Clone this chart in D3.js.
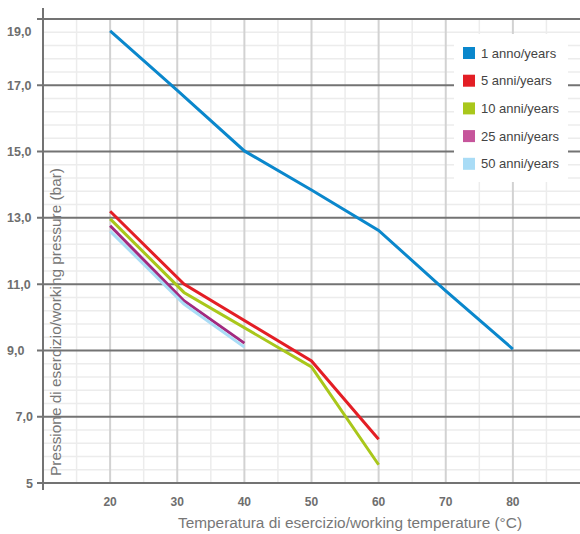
<!DOCTYPE html>
<html><head><meta charset="utf-8">
<script src="https://cdn.jsdelivr.net/npm/d3@7"></script>
<style>html,body{margin:0;padding:0;background:#fff}svg{display:block}</style>
</head><body>
<svg id="c" width="580" height="534"></svg>
<script>
const seriesNames = ["1 anno/years","5 anni/years","10 anni/years","25 anni/years","50 anni/years"];
const seriesColors = ["#0a87cc","#e31e25","#a9c71b","#a22a7f","#a9dcf6"];
const legendColors = ["#0a87cc","#e31e25","#a9c71b","#c6559b","#a9dcf6"];
const s1 = [[20,18.64],[30,16.85],[40,15.02],[50,13.84],[60,12.62],[70,10.8],[80,9.04]];
const s5 = [[20,13.2],[31,11.0],[50,8.68],[60,6.32]];
const s10 = [[20,12.97],[31,10.75],[50,8.5],[60,5.55]];
const s25 = [[20,12.76],[31,10.5],[40,9.22]];
const s50 = [[20,12.6],[31,10.4],[40,9.1]];
const seriesData = [s1,s5,s10,s25,s50];
const xTicks = [20,30,40,50,60,70,80];
const yTicks = [5,7,9,11,13,15,17,19];
const yTickLabels = ["5","7,0","9,0","11,0","13,0","15,0","17,0","19,0"];
const xTitle = "Temperatura di esercizio/working temperature (°C)";
const yTitle = "Pressione di esercizio/working pressure (bar)";

const svg = d3.select("#c");
const x = d3.scaleLinear().domain([10,90]).range([43,580]);
const y = d3.scaleLinear().domain([5,19]).range([483,19]);
const font = "'Liberation Sans', Arial, sans-serif";

const g = svg.append("g");
const minorY = d3.range(5.4,19,0.4).filter(v => Math.abs((v-5)/2 - Math.round((v-5)/2)) > 0.01);
g.selectAll(".mh").data(minorY).join("line")
  .attr("x1",x(10)).attr("x2",x(90)).attr("y1",d=>y(d)).attr("y2",d=>y(d))
  .attr("stroke","#ececec").attr("stroke-width",1.5);
g.selectAll(".mv").data(d3.range(15,90,10)).join("line")
  .attr("x1",d=>x(d)).attr("x2",d=>x(d)).attr("y1",y(19)).attr("y2",y(5))
  .attr("stroke","#ececec").attr("stroke-width",1.5);
g.selectAll(".Mv").data(d3.range(20,90,10)).join("line")
  .attr("x1",d=>x(d)).attr("x2",d=>x(d)).attr("y1",y(19)).attr("y2",y(5))
  .attr("stroke","#d2d2d2").attr("stroke-width",2);
g.selectAll(".Mh").data(yTicks).join("line")
  .attr("x1",37).attr("x2",x(90)).attr("y1",d=>y(d)).attr("y2",d=>y(d))
  .attr("stroke","#737373").attr("stroke-width",2);
g.append("line").attr("x1",x(10)).attr("x2",x(10)).attr("y1",8).attr("y2",490)
  .attr("stroke","#737373").attr("stroke-width",2);

g.selectAll(".yl").data(yTicks).join("text")
  .attr("x",d => d <= 7 ? 33 : 7)
  .attr("text-anchor",d => d <= 7 ? "end" : "start")
  .attr("y",(d) => d === 19 ? y(d)+16.5 : y(d)+4.5)
  .attr("font-family",font).attr("font-size",12.5).attr("font-weight","bold").attr("fill","#6e6e6e")
  .text((d,i)=>yTickLabels[i]);
g.selectAll(".xl").data(xTicks).join("text")
  .attr("x",d=>x(d)).attr("y",506).attr("text-anchor","middle")
  .attr("font-family",font).attr("font-size",12).attr("font-weight","bold").attr("fill","#6e6e6e")
  .text(d=>d);

g.append("text").attr("x",350).attr("y",528).attr("text-anchor","middle")
  .attr("font-family",font).attr("font-size",15.4).attr("fill","#777").text(xTitle);
g.append("text").attr("transform","translate(61,322) rotate(-90)").attr("text-anchor","middle")
  .attr("font-family",font).attr("font-size",15.4).attr("fill","#777").text(yTitle);

const line = d3.line().x(d=>x(d[0])).y(d=>y(d[1]));
g.selectAll(".ser").data(seriesData).join("path")
  .attr("d",line).attr("fill","none")
  .attr("stroke",(d,i)=>seriesColors[i]).attr("stroke-width",3)
  .attr("stroke-linejoin","miter");

const lg = g.append("g");
lg.append("rect").attr("x",454).attr("y",34).attr("width",114).attr("height",148).attr("fill","#fff");
const li = lg.selectAll(".li").data(seriesNames).join("g")
  .attr("transform",(d,i)=>`translate(463,${53 + i*27.7})`);
li.append("rect").attr("x",0).attr("y",-6).attr("width",12).attr("height",12).attr("fill",(d,i)=>legendColors[i]);
li.append("text").attr("x",18).attr("y",4.5).attr("font-family",font).attr("font-size",13).attr("fill","#444").text(d=>d);
</script>
</body></html>
